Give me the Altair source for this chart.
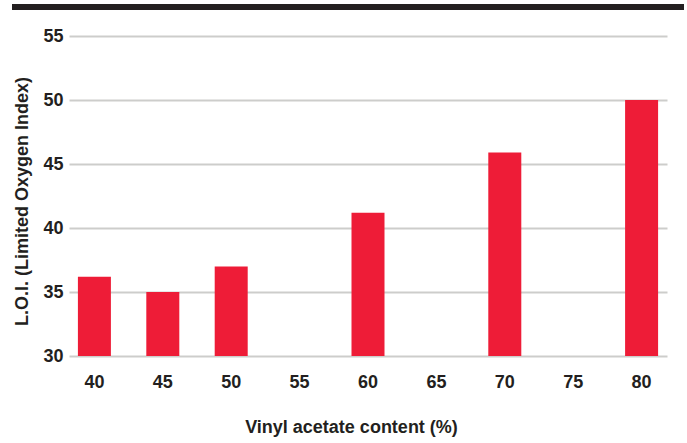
import altair as alt
import pandas as pd

categories = ["40", "45", "50", "55", "60", "65", "70", "75", "80"]
bar_cats = ["40", "45", "50", "60", "70", "80"]
loi_values = [36.2, 35.0, 37.0, 41.2, 45.9, 50.0]
y_ticks = [30, 35, 40, 45, 50, 55]

df = pd.DataFrame({"vinyl": bar_cats, "loi": loi_values})

FONT = "Liberation Sans"
INK = "#231f20"

bars = alt.Chart(df).mark_bar(color="#ee1c37", size=33).encode(
    x=alt.X(
        "vinyl:N",
        scale=alt.Scale(domain=categories, paddingInner=0.517, paddingOuter=0.13),
        sort=categories,
        axis=alt.Axis(
            title="Vinyl acetate content (%)",
            labelAngle=0,
            ticks=False,
            domain=False,
            grid=False,
            labelFont=FONT,
            labelFontSize=18,
            labelFontWeight="bold",
            labelColor=INK,
            labelPadding=26,
            labelBaseline="middle",
            titleFont=FONT,
            titleFontSize=18,
            titleFontWeight="bold",
            titleColor=INK,
            titleX=282,
            titleY=71,
            titleAlign="center",
            titleBaseline="middle",
        ),
    ),
    y=alt.Y(
        "loi:Q",
        scale=alt.Scale(domain=[30, 55], nice=False, zero=False, clamp=True),
        axis=alt.Axis(
            title="L.O.I. (Limited Oxygen Index)",
            values=y_ticks,
            ticks=False,
            domain=False,
            grid=True,
            gridColor="#cdcdcb",
            gridWidth=2,
            labelFont=FONT,
            labelFontSize=18,
            labelFontWeight="bold",
            labelColor=INK,
            labelPadding=6,
            titleFont=FONT,
            titleFontSize=18,
            titleFontWeight="bold",
            titleColor=INK,
            titleX=-47,
            titleY=165,
            titleAngle=-90,
            titleAlign="center",
            titleBaseline="middle",
        ),
    ),
    y2=alt.datum(30),
)

top_bar = alt.Chart(df).mark_rule(color="#231f20", strokeWidth=6).encode(
    x=alt.value(-57), x2=alt.value(615), y=alt.value(-29)
)

chart = alt.layer(top_bar, bars).properties(
    width=598,
    height=320,
    autosize=alt.AutoSizeParams(type="none"),
    padding={"left": 69, "top": 36, "right": 20, "bottom": 87},
    background="white",
).configure_view(stroke=None)

chart.save("out.html", embed_options={"renderer": "svg", "actions": False})
